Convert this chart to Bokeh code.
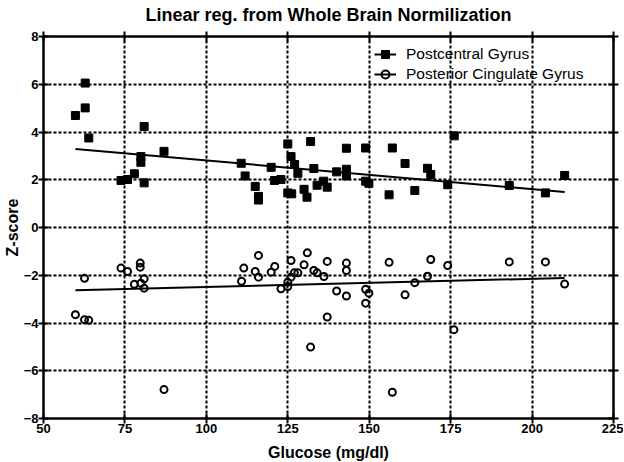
import numpy as np
from bokeh.plotting import figure
from bokeh.models import (LinearAxis, Range1d, FixedTicker, Legend, LegendItem,
                          CustomJSTickFormatter, Grid)
from bokeh.embed import file_html
from bokeh.resources import INLINE

title_text = "Linear reg. from Whole Brain Normilization"
x_label = "Glucose (mg/dl)"
y_label = "Z-score"
series_names = ["Postcentral Gyrus", "Posterior Cingulate Gyrus"]
x_ticks = [50, 75, 100, 125, 150, 175, 200, 225]
y_ticks = [-8, -6, -4, -2, 0, 2, 4, 6, 8]

post_x = [59.8, 62.8, 62.8, 63.9, 73.8, 75.8, 77.9, 79.9, 79.9, 80.9, 80.9, 87.0,
          110.7, 111.9, 115.0, 116.0, 116.0, 119.9, 120.9, 122.9, 125.0, 126.0,
          127.1, 128.1, 125.0, 126.2, 130.0, 130.9, 132.0, 133.0, 134.0, 136.0,
          137.1, 140.0, 143.0, 143.0, 143.0, 148.9, 148.9, 149.9, 156.1, 157.1,
          161.0, 164.0, 167.9, 168.9, 176.1, 174.1, 193.0, 204.1, 210.0]
post_y = [4.69, 6.05, 5.01, 3.75, 1.97, 2.01, 2.25, 2.97, 2.73, 4.23, 1.87, 3.19,
          2.69, 2.16, 1.72, 1.30, 1.15, 2.52, 1.97, 2.01, 3.50, 2.97,
          2.64, 2.27, 1.45, 1.41, 1.60, 1.27, 3.60, 2.47, 1.77, 1.94,
          1.69, 2.33, 3.32, 2.44, 2.16, 3.33, 1.94, 1.85, 1.37, 3.33,
          2.68, 1.55, 2.48, 2.22, 3.84, 1.79, 1.76, 1.45, 2.18]

cing_x = [59.8, 62.6, 62.6, 63.9, 73.8, 75.8, 77.9, 79.7, 79.7, 79.9, 80.9, 80.9, 87.0,
          111.5, 110.8, 115.0, 116.0, 116.0, 119.9, 121.0, 122.9, 125.0, 125.0,
          126.0, 126.0, 127.0, 128.1, 130.0, 131.0, 132.0, 133.0, 134.0, 136.1,
          137.1, 137.1, 140.0, 143.0, 143.0, 143.0, 148.9, 149.9, 148.9, 156.1,
          157.1, 161.0, 164.0, 167.9, 168.9, 174.1, 176.0, 193.0, 204.1, 210.0]
cing_y = [-3.65, -2.13, -3.86, -3.89, -1.70, -1.84, -2.38, -1.49, -1.66, -2.33, -2.15, -2.54, -6.79,
          -1.70, -2.25, -1.84, -2.08, -1.17, -1.87, -1.63, -2.57, -2.29, -2.47,
          -1.38, -2.08, -1.90, -1.90, -1.56, -1.06, -5.01, -1.80, -1.90, -2.05,
          -1.42, -3.75, -2.66, -1.49, -1.80, -2.87, -2.59, -2.75, -3.17, -1.46,
          -6.90, -2.82, -2.31, -2.04, -1.34, -1.59, -4.28, -1.44, -1.44, -2.37]

FONT = "Liberation Sans"

p = figure(frame_width=570, frame_height=382, output_backend="svg", toolbar_location=None,
           x_range=Range1d(50, 225), y_range=Range1d(-8, 8),
           x_axis_type=None, y_axis_type=None,
           min_border_left=42, min_border_right=10, min_border_top=36, min_border_bottom=44)
p.outline_line_color = None
p.background_fill_color = "white"
p.border_fill_color = "white"

p.title.text = title_text
p.title.text_font = FONT
p.title.text_font_size = "18px"
p.title.text_font_style = "bold"
p.title.align = "center"
p.title.vertical_align = "top"
p.title.text_color = "black"
p.title.standoff = 9

xt = FixedTicker(ticks=x_ticks)
yt = FixedTicker(ticks=y_ticks)

for dim, tk in ((0, xt), (1, yt)):
    g = Grid(dimension=dim, ticker=tk, grid_line_color="black",
             grid_line_width=2, grid_line_dash="3 2")
    p.add_layout(g)


def style(ax, labels):
    ax.axis_line_width = 2.5
    ax.axis_line_color = "black"
    ax.major_tick_line_width = 2
    ax.major_tick_line_color = "black"
    ax.major_tick_in = 5
    ax.major_tick_out = 5
    ax.minor_tick_line_color = None
    ax.major_label_text_font = FONT
    ax.major_label_text_font_style = "bold"
    ax.major_label_text_font_size = "13px"
    ax.major_label_text_color = "black"
    ax.axis_label_text_font = FONT
    ax.axis_label_text_font_style = "bold"
    ax.axis_label_text_font_size = "16px"
    ax.axis_label_text_color = "black"
    if not labels:
        ax.formatter = CustomJSTickFormatter(code="return ''")
        ax.major_label_text_font_size = "0px"
        ax.major_label_standoff = 0


bx = LinearAxis(ticker=xt, axis_label=x_label)
style(bx, True)
bx.major_label_standoff = 0
bx.axis_label_standoff = 8
p.add_layout(bx, "below")

ly = LinearAxis(ticker=yt, axis_label=y_label)
style(ly, True)
ly.major_label_standoff = 0
ly.axis_label_standoff = 0
p.add_layout(ly, "left")

tx = LinearAxis(ticker=xt)
style(tx, False)
p.add_layout(tx, "above")

ry = LinearAxis(ticker=yt)
style(ry, False)
p.add_layout(ry, "right")

# regression lines
def fit_line(xs, ys):
    m, b = np.polyfit(np.array(xs), np.array(ys), 1)
    xx = [min(xs), max(xs)]
    return xx, [m * v + b for v in xx]

fx1, fy1 = fit_line(post_x, post_y)
fx2, fy2 = fit_line(cing_x, cing_y)

l1 = p.line(fx1, fy1, line_color="black", line_width=2)
l2 = p.line(fx2, fy2, line_color="black", line_width=2)

s1 = p.scatter(post_x, post_y, marker="square", size=8, fill_color="black",
               line_color="black", line_width=1)
s2 = p.scatter(cing_x, cing_y, marker="circle", size=7, fill_color=None,
               line_color="black", line_width=2)

legend = Legend(items=[LegendItem(label=series_names[0], renderers=[l1, s1]),
                       LegendItem(label=series_names[1], renderers=[l2, s2])],
                location=(331, 334), border_line_color=None, background_fill_alpha=0,
                padding=0, margin=0, spacing=0, glyph_width=22, glyph_height=20,
                label_height=20, label_standoff=10, label_text_font=FONT,
                label_text_font_size="15.5px", label_text_color="black")
p.add_layout(legend)

open("out.html", "w").write(file_html(p, INLINE))
